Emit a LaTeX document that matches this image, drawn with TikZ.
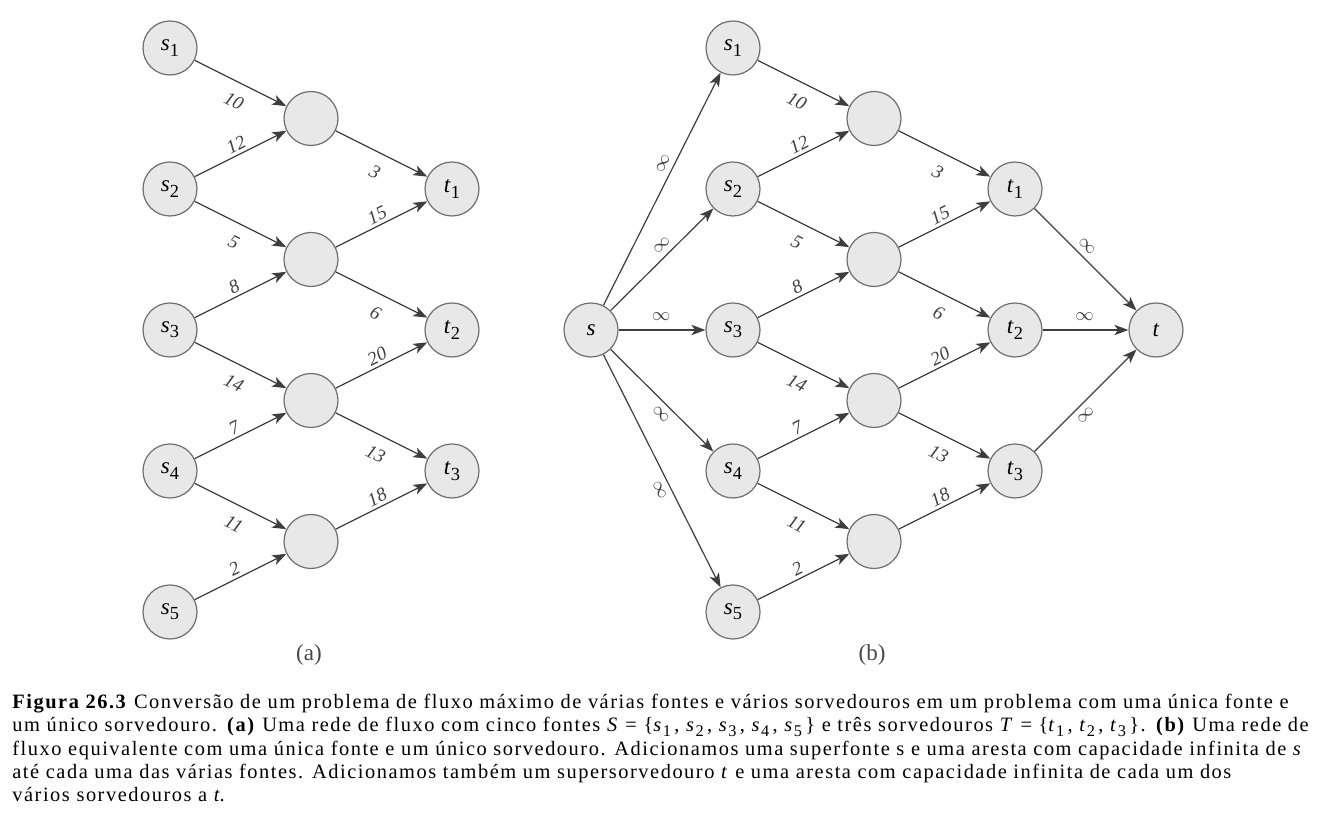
\documentclass[tikz,border=0pt]{standalone}
\usepackage{fontspec}
\setmainfont{Liberation Serif}
\newfontfamily\capfont[LetterSpace=7.5]{Liberation Serif}
\usetikzlibrary{arrows.meta, positioning}
\definecolor{nodefill}{RGB}{232,232,232}
\definecolor{nodeline}{RGB}{110,110,110}
\definecolor{edgeline}{RGB}{62,62,62}
\definecolor{sublabel}{RGB}{70,70,70}
\newcommand{\vlab}[2]{\textit{#1}\raisebox{-0.5ex}{\scalebox{0.8}{#2}}}

\begin{document}
\begin{tikzpicture}[x=0.5pt, y=-0.5pt,
    vert/.style={circle, draw=nodeline, fill=nodefill, line width=0.6pt,
                 minimum size=27pt, inner sep=0pt, font=\fontsize{11.5}{13}\selectfont},
    arr/.style={-{Stealth[length=7pt, width=5.2pt, inset=1.8pt]}, edgeline, line width=0.6pt},
    wt/.style={sloped, inner sep=0.5pt, font=\fontsize{9.5}{11}\selectfont\itshape, text=edgeline},
    inf/.style={sloped, inner sep=0.5pt, font=\fontsize{9}{10}\selectfont, text=edgeline}
  ]
    \useasboundingbox (0,0) rectangle (1324,838);

    % vertices of both networks, (b) shifted right
    \foreach \g/\dx in {a/0, b/563}{
      \foreach \i in {1,...,5}
        \node[vert] (\g-s\i) at (170+\dx, 48+141*\i-141) {\vlab{s}{\i}};
      \foreach \i in {1,...,4}
        \node[vert] (\g-m\i) at (311+\dx, 118.5+141*\i-141) {};
      \foreach \i in {1,...,3}
        \node[vert] (\g-t\i) at (452+\dx, 189+141*\i-141) {\vlab{t}{\i}};
    }
    \node[vert] (s) at (591, 330)  {\textit{s}};
    \node[vert] (t) at (1156, 330) {\textit{t}};

    % capacities drawn above the edge
    \foreach \g in {a,b}{
      \foreach \u/\v/\c/\p in {s2/m1/12/0.5, s3/m2/8/0.48, s4/m3/7/0.48, s5/m4/2/0.48,
                               m2/t1/15/0.5, m3/t2/20/0.5, m4/t3/18/0.5}
        \draw[arr] (\g-\u) -- node[wt, above=1pt, pos=\p] {\c} (\g-\v);
    }
    % capacities drawn below the edge
    \foreach \g in {a,b}{
      \foreach \u/\v/\c/\p in {s1/m1/10/0.52, s2/m2/5/0.52, s3/m3/14/0.52, s4/m4/11/0.52,
                               m1/t1/3/0.52, m2/t2/6/0.53, m3/t3/13/0.53}
        \draw[arr] (\g-\u) -- node[wt, below=5.5pt, pos=\p] {\c} (\g-\v);
    }

    % super source and super sink
    \draw[arr] (s) -- node[inf, above=2.5pt, pos=0.59] {$\infty$} (b-s1);
    \draw[arr] (s) -- node[inf, above=2.5pt, pos=0.57] {$\infty$} (b-s2);
    \draw[arr] (s) -- node[inf, above=4pt, pos=0.49]  {$\infty$} (b-s3);
    \draw[arr] (s) -- node[inf, below=2.5pt, pos=0.56] {$\infty$} (b-s4);
    \draw[arr] (s) -- node[inf, below=2.5pt, pos=0.56] {$\infty$} (b-s5);
    \draw[arr] (b-t1) -- node[inf, above=2.5pt, pos=0.44] {$\infty$} (t);
    \draw[arr] (b-t2) -- node[inf, above=4pt, pos=0.49]  {$\infty$} (t);
    \draw[arr] (b-t3) -- node[inf, below=2.5pt, pos=0.43] {$\infty$} (t);

    \node[text=sublabel, font=\fontsize{11.5}{13}\selectfont] (lbl-a) at (309, 655) {(a)};
    \node[text=sublabel, font=\fontsize{11.5}{13}\selectfont] (lbl-b) at (872, 655) {(b)};

    % caption
    \node[anchor=north west, align=left, inner sep=0pt,
          font=\capfont\fontsize{10.2}{11.6}\selectfont] (caption) at (12, 694)
      {\textbf{Figura 26.3} Conversão de um problema de fluxo máximo de várias fontes e vários sorvedouros em um problema com uma única fonte e\\
       um único sorvedouro. \textbf{(a)} Uma rede de fluxo com cinco fontes \textit{S} = \{\vlab{s}{1}\,, \vlab{s}{2}\,, \vlab{s}{3}\,, \vlab{s}{4}\,, \vlab{s}{5}\,\} e três sorvedouros \textit{T} = \{\vlab{t}{1}\,, \vlab{t}{2}\,, \vlab{t}{3}\,\}. \textbf{(b)} Uma rede de\\
       fluxo equivalente com uma única fonte e um único sorvedouro. Adicionamos uma superfonte s e uma aresta com capacidade infinita de \textit{s}\\
       até cada uma das várias fontes. Adicionamos também um supersorvedouro \textit{t} e uma aresta com capacidade infinita de cada um dos\\
       vários sorvedouros a \textit{t}.};
\end{tikzpicture}
\end{document}
